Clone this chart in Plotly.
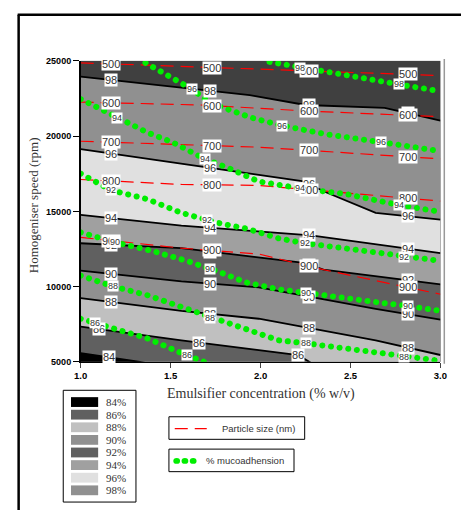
import numpy as np
import plotly.graph_objects as go

W, H = 461, 510

# ---------------- axes ----------------
conc_ticks = [1.0, 1.5, 2.0, 2.5, 3.0]
conc_tick_text = ["1.0", "1.5", "2.0", "2.5", "3.0"]
speed_ticks = [5000, 10000, 15000, 20000, 25000]
speed_tick_text = ["5000", "10000", "15000", "20000", "25000"]

# ---------------- % mucoadhesion filled-contour boundaries ----------------
m98_x = [1.0, 1.5, 1.94, 2.25, 2.69, 3.0]
m98_y = [23958, 23306, 22720, 22068, 21873, 21026]
m96_x = [1.0, 1.56, 2.24, 2.35, 2.64, 3.0]
m96_y = [19137, 18159, 16987, 16335, 14902, 14446]
m94_x = [1.0, 1.56, 2.28, 3.0]
m94_y = [14772, 14055, 13404, 12231]
m92_x = [1.0, 1.56, 2.24, 2.35, 3.0]
m92_y = [12882, 12557, 11580, 11124, 10146]
m90_x = [1.0, 1.56, 1.99, 2.28, 2.64, 3.0]
m90_y = [11058, 10342, 9951, 9299, 8518, 7801]
m88_x = [1.0, 1.56, 1.99, 2.28, 2.64, 3.0]
m88_y = [9234, 8387, 7866, 7214, 6433, 5456]
m86_x = [1.0, 1.56, 2.21, 2.28, 2.6]
m86_y = [7344, 6433, 5456, 4935, 3957]
m84_x = [1.0, 1.33, 1.6]
m84_y = [5585, 5000, 4348]

muco_levels = [98, 96, 94, 92, 90, 88, 86, 84]
muco_label_pos = [
    [1.17, 1.72, 2.27, 2.82],
    [1.17, 1.72, 2.27, 2.82],
    [1.17, 1.72, 2.27, 2.82],
    [1.17, 1.72, 2.27, 2.82],
    [1.17, 1.72, 2.27, 2.82],
    [1.17, 1.72, 2.27, 2.82],
    [1.10, 1.66, 2.21],
    [1.16],
]

legend_labels = ["84%", "86%", "88%", "90%", "92%", "94%", "96%", "98%"]
legend_colors = ["#000000", "#606060", "#c0c0c0", "#909090",
                 "#606060", "#a0a0a0", "#e0e0e0", "#909090"]
top_band_color = "#404040"

# ---------------- particle size (nm) ----------------
p500_x = [1.0, 1.67, 2.245, 3.0]
p500_y = [24870, 24577, 24349, 24023]
p600_x = [1.0, 1.67, 2.245, 3.0]
p600_y = [22264, 22068, 21677, 21287]
p700_x = [1.0, 1.99, 3.0]
p700_y = [19658, 19267, 18485]
p800_x = [1.0, 1.56, 1.99, 3.0]
p800_y = [17117, 16791, 16726, 15684]
p900_x = [1.0, 1.56, 1.99, 2.35, 3.0]
p900_y = [13273, 12557, 12166, 11124, 9495]
size_levels = [500, 600, 700, 800, 900]
size_label_pos = [1.17, 1.73, 2.27, 2.82]

# ---------------- % mucoadhesion (dotted) ----------------
g98_x = [2.05, 2.22, 2.46, 2.77, 3.0]
g98_y = [24935, 24544, 24088, 23436, 22980]
g96_x = [1.36, 1.5, 1.62, 1.72, 1.95, 2.12, 2.37, 2.67, 3.0]
g96_y = [24870, 23892, 23111, 22199, 21221, 20700, 20114, 19593, 19006]
g94_x = [1.0, 1.2, 1.37, 1.51, 1.69, 1.83, 1.99, 2.22, 2.48, 2.77, 3.0]
g94_y = [22459, 21221, 20244, 19593, 18485, 17834, 16987, 16530, 16140, 15423, 14967]
g92_x = [1.0, 1.17, 1.37, 1.56, 1.78, 1.92, 2.1, 2.245, 2.46, 2.64, 2.8, 3.0]
g92_y = [17508, 16400, 15814, 14902, 14185, 13860, 13208, 12882, 12557, 12296, 11970, 11710]
g90_x = [1.0, 1.19, 1.4, 1.59, 1.78, 1.92, 2.1, 2.25, 2.46, 2.64, 2.82, 3.0]
g90_y = [13599, 12948, 12361, 11710, 10928, 10277, 9821, 9560, 9234, 8974, 8713, 8387]
g88_x = [1.0, 1.18, 1.37, 1.56, 1.78, 1.92, 2.1, 2.25, 2.46, 2.64, 2.82, 3.0]
g88_y = [10733, 10016, 9430, 8648, 7671, 7084, 6433, 6237, 5911, 5586, 5325, 5065]
g86_x = [1.0, 1.18, 1.37, 1.56, 1.65, 1.8]
g86_y = [7866, 7279, 6563, 5586, 5130, 4478]
green_levels = [98, 96, 94, 92, 90, 88, 86]
green_label_pos = [
    [2.22, 2.77],
    [1.62, 2.12, 2.67],
    [1.2, 1.69, 2.22, 2.77],
    [1.17, 1.7, 2.245, 2.8],
    [1.19, 1.72, 2.25, 2.82],
    [1.18, 1.72, 2.25, 2.8],
    [1.08, 1.59],
]

# ---------------- build ----------------
muco_lines = [(m98_x, m98_y), (m96_x, m96_y), (m94_x, m94_y), (m92_x, m92_y),
              (m90_x, m90_y), (m88_x, m88_y), (m86_x, m86_y), (m84_x, m84_y)]
size_lines = [(p500_x, p500_y), (p600_x, p600_y), (p700_x, p700_y),
              (p800_x, p800_y), (p900_x, p900_y)]
green_lines = [(g98_x, g98_y), (g96_x, g96_y), (g94_x, g94_y), (g92_x, g92_y),
               (g90_x, g90_y), (g88_x, g88_y), (g86_x, g86_y)]
color_of = dict(zip([int(s[:-1]) for s in legend_labels], legend_colors))

SANS = "Liberation Sans, Arial, sans-serif"
SERIF = "Liberation Serif, Times New Roman, serif"
BOTTOM = 2000

fig = go.Figure()

# filled bands: region below each boundary gets that level's colour
for lev, (xs, ys) in zip(muco_levels, muco_lines):
    fig.add_trace(go.Scatter(
        x=list(xs) + [xs[-1], xs[0]], y=list(ys) + [BOTTOM, BOTTOM],
        mode="lines", fill="toself", fillcolor=color_of[lev],
        line=dict(width=0, color=color_of[lev]), hoverinfo="skip", showlegend=False))

for lev, (xs, ys) in zip(muco_levels, muco_lines):
    fig.add_trace(go.Scatter(x=xs, y=ys, mode="lines",
                             line=dict(color="black", width=1.8),
                             hoverinfo="skip", showlegend=False))

for lev, (xs, ys) in zip(size_levels, size_lines):
    fig.add_trace(go.Scatter(x=xs, y=ys, mode="lines",
                             line=dict(color="#ff0000", width=1.2, dash="13px,7px"),
                             hoverinfo="skip", showlegend=False))

for lev, (xs, ys) in zip(green_levels, green_lines):
    fig.add_trace(go.Scatter(x=xs, y=ys, mode="lines",
                             line=dict(color="#00ee00", width=6, dash="0.1px,8.6px"),
                             hoverinfo="skip", showlegend=False))

ann = []
def lab(text, x, y, size):
    ann.append(dict(x=x, y=y, xref="x", yref="y", text=text, showarrow=False,
                    font=dict(family=SANS, size=size, color="#333333"),
                    bgcolor="white", borderpad=0, xanchor="center", yanchor="middle"))

for lev, (xs, ys), pos in zip(muco_levels, muco_lines, muco_label_pos):
    for c in pos:
        lab(str(lev), c, float(np.interp(c, xs, ys)), 11)
for lev, (xs, ys) in zip(size_levels, size_lines):
    for c in size_label_pos:
        lab(str(lev), c, float(np.interp(c, xs, ys)), 11)
for lev, (xs, ys), pos in zip(green_levels, green_lines, green_label_pos):
    for c in pos:
        lab(str(lev), c, float(np.interp(c, xs, ys)), 9)

def px(x, y):
    return x / W, 1 - y / H

# axis titles
ax, ay = px(27, 204)
ann.append(dict(x=ax, y=ay, xref="paper", yref="paper", text="Homogeniser speed (rpm)",
                showarrow=False, textangle=-90, font=dict(family=SERIF, size=13, color="#333333"),
                xanchor="center", yanchor="middle"))
ax, ay = px(262, 397)
ann.append(dict(x=ax, y=ay, xref="paper", yref="paper",
                text="Emulsifier concentration (% w/v)", showarrow=False,
                font=dict(family=SERIF, size=14, color="#333333"),
                xanchor="center", yanchor="middle"))

shapes = []
def rect_px(x0, y0, x1, y1, **kw):
    a, b = px(x0, y0)
    c, d = px(x1, y1)
    shapes.append(dict(type="rect", xref="paper", yref="paper", x0=a, y0=d, x1=c, y1=b, **kw))
def line_px(x0, y0, x1, y1, **kw):
    a, b = px(x0, y0)
    c, d = px(x1, y1)
    shapes.append(dict(type="line", xref="paper", yref="paper", x0=a, y0=b, x1=c, y1=d, **kw))

# outer frame
line_px(12, 10, 12, 515, line=dict(color="black", width=2.5))
line_px(11, 10, 470, 10, line=dict(color="black", width=2.5))
# right border of plot
line_px(451, 55, 451, 366, line=dict(color="#999999", width=1.5))

# legend 1: colour levels
rect_px(58, 393, 133, 507, line=dict(color="black", width=1), fillcolor="white")
for i, (lbl, col) in enumerate(zip(legend_labels, legend_colors)):
    yc = 405 + i * 12.86
    rect_px(66, yc - 5, 94, yc + 5, line=dict(width=0), fillcolor=col)
    tx, ty = px(100, yc)
    ann.append(dict(x=tx, y=ty, xref="paper", yref="paper", text=lbl, showarrow=False,
                    font=dict(family=SERIF, size=11, color="#333333"),
                    xanchor="left", yanchor="middle"))

# legend 2: particle size
rect_px(167, 420, 307, 443, line=dict(color="black", width=1), fillcolor="white")
line_px(173, 432, 206, 432, line=dict(color="#ff0000", width=1.2, dash="13px,7px"))
tx, ty = px(220, 432)
ann.append(dict(x=tx, y=ty, xref="paper", yref="paper", text="Particle size (nm)",
                showarrow=False, font=dict(family=SANS, size=9.5, color="#333333"),
                xanchor="left", yanchor="middle"))

# legend 3: % mucoadhension
rect_px(167, 453, 296, 476, line=dict(color="black", width=1), fillcolor="white")
for xc in (175, 183.5, 192):
    rect_px(xc - 3.5, 462, xc + 3.5, 468, line=dict(width=0), fillcolor="#00ee00")
    shapes[-1]["type"] = "circle"
tx, ty = px(203, 465)
ann.append(dict(x=tx, y=ty, xref="paper", yref="paper", text="% mucoadhension",
                showarrow=False, font=dict(family=SANS, size=9.5, color="#333333"),
                xanchor="left", yanchor="middle"))

fig.update_layout(
    width=W, height=H, margin=dict(l=0, r=0, t=0, b=0),
    paper_bgcolor="white", plot_bgcolor=top_band_color,
    showlegend=False,
    xaxis=dict(domain=[76 / W, 447 / W], range=[1.0, 3.0],
               tickvals=conc_ticks, ticktext=conc_tick_text,
               showgrid=False, zeroline=False, showline=True, linecolor="black", linewidth=1,
               ticks="outside", ticklen=5, tickcolor="#444444",
               tickfont=dict(family=SANS, size=9.5, color="black", weight="bold")),
    yaxis=dict(domain=[1 - 364 / H, 1 - 57 / H], range=[5000, 25000],
               tickvals=speed_ticks, ticktext=speed_tick_text,
               showgrid=False, zeroline=False, showline=True, linecolor="black", linewidth=1.5,
               ticks="outside", ticklen=6, tickcolor="black",
               tickfont=dict(family=SANS, size=9, color="black", weight="bold")),
    annotations=ann, shapes=shapes,
)

post = """
var st=document.createElement('style');
st.textContent='path.js-line[style*="0.1px"]{stroke-linecap:round !important;}';
document.head.appendChild(st);
"""
fig.write_html("out.html", post_script=post)
